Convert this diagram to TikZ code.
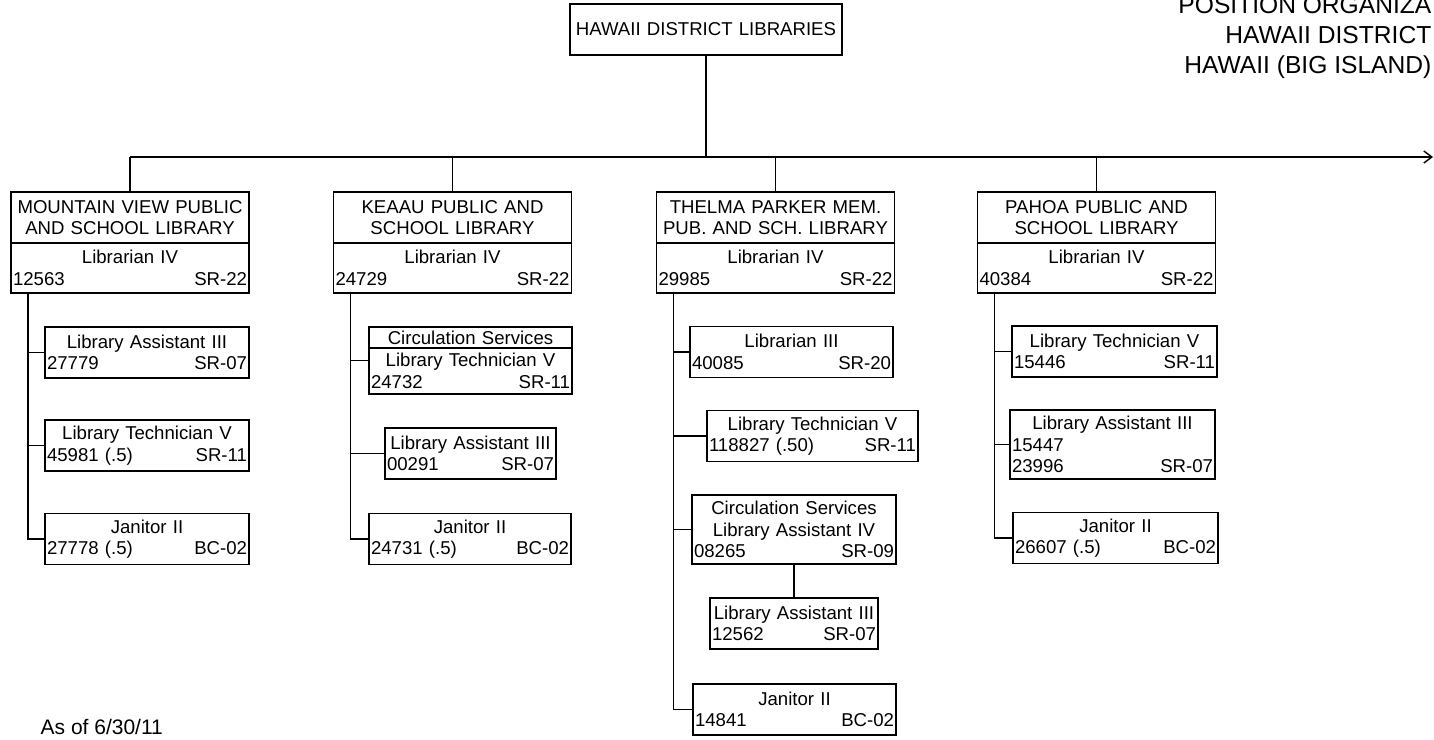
\documentclass[tikz,border=0pt]{standalone}
\usepackage{fontspec}
\setmainfont{Liberation Sans}
\usetikzlibrary{positioning,calc,arrows.meta}
\newcommand{\posn}[2]{\makebox[\linewidth]{#1\hfill #2}}

\begin{document}
\begin{tikzpicture}[x=0.5pt,y=-0.5pt,line width=0.7pt,
    orgbox/.style={draw,text width=#1,align=center,inner xsep=1pt,inner ysep=1pt,
      outer sep=0pt,minimum height=25.5pt}]
  \tikzstyle{every node}=[font=\fontsize{9.3}{10.8}\selectfont]
  \useasboundingbox (0,0) rectangle (1434,739);

  \node[orgbox=134pt] (hdl) at (706,29.5) {HAWAII DISTRICT LIBRARIES}; %L0
  \node[anchor=north east,align=right,inner sep=0pt,
    font=\fontsize{12.3}{15}\selectfont] (ttl) at (1432,-4)
    {POSITION ORGANIZA\\HAWAII DISTRICT\\HAWAII (BIG ISLAND)};
  \node[anchor=base west,inner sep=0pt,font=\fontsize{10.5}{12}\selectfont]
    (asof) at (40,734) {As of 6/30/11};

  % libraries
  \node[orgbox=117pt] (mvh) at (130,217.5) {MOUNTAIN VIEW PUBLIC\\AND SCHOOL LIBRARY};
  \node[orgbox=117pt,below=0pt of mvh,minimum height=25pt] (mv) {Librarian IV\\\posn{12563}{SR-22}};
  \node[orgbox=117pt] (keh) at (452.5,217.5) {KEAAU PUBLIC AND\\SCHOOL LIBRARY};
  \node[orgbox=117pt,below=0pt of keh,minimum height=25pt] (ke) {Librarian IV\\\posn{24729}{SR-22}};
  \node[orgbox=117pt] (tph) at (775.5,217.5) {THELMA PARKER MEM.\\PUB. AND SCH. LIBRARY};
  \node[orgbox=117pt,below=0pt of tph,minimum height=25pt] (tp) {Librarian IV\\\posn{29985}{SR-22}};
  \node[orgbox=117pt] (pah) at (1096.5,217.5) {PAHOA PUBLIC AND\\SCHOOL LIBRARY};
  \node[orgbox=117pt,below=0pt of pah,minimum height=25pt] (pa) {Librarian IV\\\posn{40384}{SR-22}};

  % mountain view
  \node[orgbox=100pt] (mv1) at (147,352.5) {Library Assistant III\\\posn{27779}{SR-07}};
  \node[orgbox=100pt] (mv2) at (147,445.5) {Library Technician V\\\posn{45981 (.5)}{SR-11}};
  \node[orgbox=100pt] (mv3) at (147,539) {Janitor II\\\posn{27778 (.5)}{BC-02}};

  % keaau
  \node[orgbox=99.5pt,minimum height=10.5pt] (ke1t) at (470.5,337.5) {Circulation Services};
  \node[orgbox=99.5pt,below=0pt of ke1t,minimum height=23pt] (ke1) {Library Technician V\\\posn{24732}{SR-11}};
  \node[orgbox=83.5pt] (ke2) at (470.5,453.5) {Library Assistant III\\\posn{00291}{SR-07}};
  \node[orgbox=99pt] (ke3) at (470,539) {Janitor II\\\posn{24731 (.5)}{BC-02}};

  % thelma parker
  \node[orgbox=99.5pt] (tp1) at (791.5,352) {Librarian III\\\posn{40085}{SR-20}};
  \node[orgbox=103.5pt] (tp2) at (812.5,436) {Library Technician V\\\posn{118827 (.50)}{SR-11}};
  \node[orgbox=100pt,minimum height=34.5pt] (tp3) at (794,529.5)
    {Circulation Services\\Library Assistant IV\\\posn{08265}{SR-09}};
  \node[orgbox=82pt,below=17pt of tp3] (tp4) {Library Assistant III\\\posn{12562}{SR-07}};
  \node[orgbox=99.5pt] (tp5) at (794.5,709.5) {Janitor II\\\posn{14841}{BC-02}};

  % pahoa
  \node[orgbox=100.5pt] (pa1) at (1114.5,351.5) {Library Technician V\\\posn{15446}{SR-11}};
  \node[orgbox=100.5pt,minimum height=34.5pt] (pa2) at (1112.5,444.5)
    {Library Assistant III\\\posn{15447}{}\\\posn{23996}{SR-07}};
  \node[orgbox=100.5pt] (pa3) at (1115.5,538) {Janitor II\\\posn{26607 (.5)}{BC-02}};

  % lines
  \coordinate (bus) at (1433,157);
  \draw[-{Straight Barb[length=4pt,width=6pt]}] (mvh.north |- bus) -- (bus);
  \draw (hdl.south) -- (hdl.south |- bus);
  \foreach \n in {mvh,keh,tph,pah}
    \draw (\n.north) -- (\n.north |- bus);

  \foreach \n in {mv,ke,tp,pa}
    \coordinate (\n t) at ($(\n.south west)+(17,0)$);
  \foreach \k in {1,2,3}
    \draw (mvt) |- (mv\k.west);
  \draw (ket) |- ($(ke1t.north west)!.5!(ke1.south west)$);
  \foreach \k in {2,3}
    \draw (ket) |- (ke\k.west);
  \foreach \k in {1,2,3,5}
    \draw (tpt) |- (tp\k.west);
  \draw (tp3) -- (tp4);
  \foreach \k in {1,2,3}
    \draw (pat) |- (pa\k.west);
\end{tikzpicture}
\end{document}
